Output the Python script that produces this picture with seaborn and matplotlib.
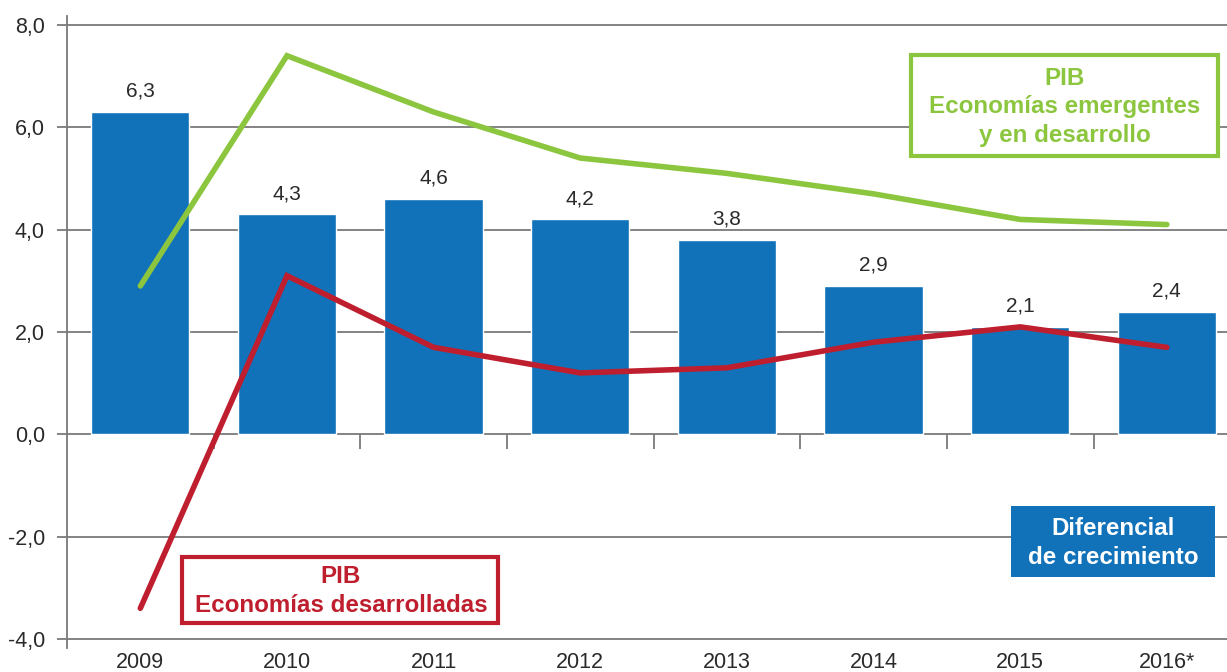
import numpy as np
import pandas as pd
import matplotlib
matplotlib.use("Agg")
import matplotlib.pyplot as plt
import matplotlib.patches as mpatches
from matplotlib.ticker import FuncFormatter
import seaborn as sns

# ---- data ----
years = ["2009", "2010", "2011", "2012", "2013", "2014", "2015", "2016*"]
diferencial = [6.3, 4.3, 4.6, 4.2, 3.8, 2.9, 2.1, 2.4]
emergentes = [2.9, 7.4, 6.3, 5.4, 5.1, 4.7, 4.2, 4.1]
desarrolladas = [-3.4, 3.1, 1.7, 1.2, 1.3, 1.8, 2.1, 1.7]
yticks = [-4, -2, 0, 2, 4, 6, 8]

BLUE = "#1172BA"
GREEN = "#8CC63F"
RED = "#BE1E2D"
GRID = "#7a7a7a"
TXT = "#2a2a2a"

sns.set_theme(style="white")
plt.rcParams["font.family"] = ["Liberation Sans", "DejaVu Sans"]

W, H = 1227, 672
fig = plt.figure(figsize=(W / 100, H / 100), dpi=100)
ax = fig.add_axes([67 / W, (H - 648.2) / H, 1160 / W, 632.4 / H])

df = pd.DataFrame({"year": years, "dif": diferencial})
sns.barplot(data=df, x="year", y="dif", color=BLUE, saturation=1, width=0.67,
            ax=ax, zorder=2)
pos = np.arange(len(years))
sns.lineplot(x=pos, y=emergentes, color=GREEN, linewidth=4, ax=ax, zorder=3,
             solid_capstyle="round", solid_joinstyle="miter")
sns.lineplot(x=pos, y=desarrolladas, color=RED, linewidth=4, ax=ax, zorder=4,
             solid_capstyle="round", solid_joinstyle="miter")

ax.bar_label(ax.containers[0],
             labels=[f"{v:.1f}".replace(".", ",") for v in diferencial],
             padding=8, fontsize=15, color=TXT)

ax.set_xlim(-0.5, 7.41)
ax.set_ylim(-4.18, 8.18)
ax.set_yticks(yticks)
ax.yaxis.set_major_formatter(FuncFormatter(lambda v, p: f"{v:.1f}".replace(".", ",")))
ax.grid(axis="y", color=GRID, linewidth=1.3, zorder=0)
ax.set_axisbelow(True)
for s in ["top", "right", "bottom"]:
    ax.spines[s].set_visible(False)
ax.spines["left"].set_color(GRID)
ax.spines["left"].set_linewidth(1.3)
ax.tick_params(axis="y", left=True, length=7, width=1.3, color=GRID, pad=9,
               labelsize=15.5, labelcolor=TXT)
ax.tick_params(axis="x", bottom=False, length=0, pad=3, labelsize=15.5, labelcolor=TXT)
ax.set_xlabel("")
ax.set_ylabel("")

# small ticks under the zero line at category boundaries
ax.vlines(np.arange(0.5, len(years) - 0.5), -0.28, 0, color=GRID, linewidth=1.3, zorder=1)

# ---- annotation boxes (figure pixel coords) ----
def fx(x):
    return x / W

def fy(y):
    return (H - y) / H

# green box
fig.patches.append(mpatches.Rectangle((fx(911), fy(156)), (1218 - 911) / W, (156 - 55) / H,
                                      transform=fig.transFigure, facecolor="white",
                                      edgecolor=GREEN, linewidth=3, zorder=5))
fig.text(fx(1065), fy(107), "PIB\nEconomías emergentes\ny en desarrollo", color=GREEN,
         fontsize=17.4, fontweight="bold", ha="center", va="center", linespacing=1.32,
         zorder=6)

# red box
fig.patches.append(mpatches.Rectangle((fx(182), fy(623)), (498 - 182) / W, (623 - 557) / H,
                                      transform=fig.transFigure, facecolor="white",
                                      edgecolor=RED, linewidth=3, zorder=5))
fig.text(fx(341), fy(591), "PIB\nEconomías desarrolladas", color=RED,
         fontsize=17.4, fontweight="bold", ha="center", va="center", linespacing=1.32,
         zorder=6)

# blue box
fig.patches.append(mpatches.Rectangle((fx(1011), fy(577)), (1215 - 1011) / W, (577 - 506) / H,
                                      transform=fig.transFigure, facecolor=BLUE,
                                      edgecolor="none", zorder=5))
fig.text(fx(1113), fy(543), "Diferencial\nde crecimiento", color="white",
         fontsize=17.4, fontweight="bold", ha="center", va="center", linespacing=1.32,
         zorder=6)

fig.savefig("out.png", dpi=100, facecolor="white")
